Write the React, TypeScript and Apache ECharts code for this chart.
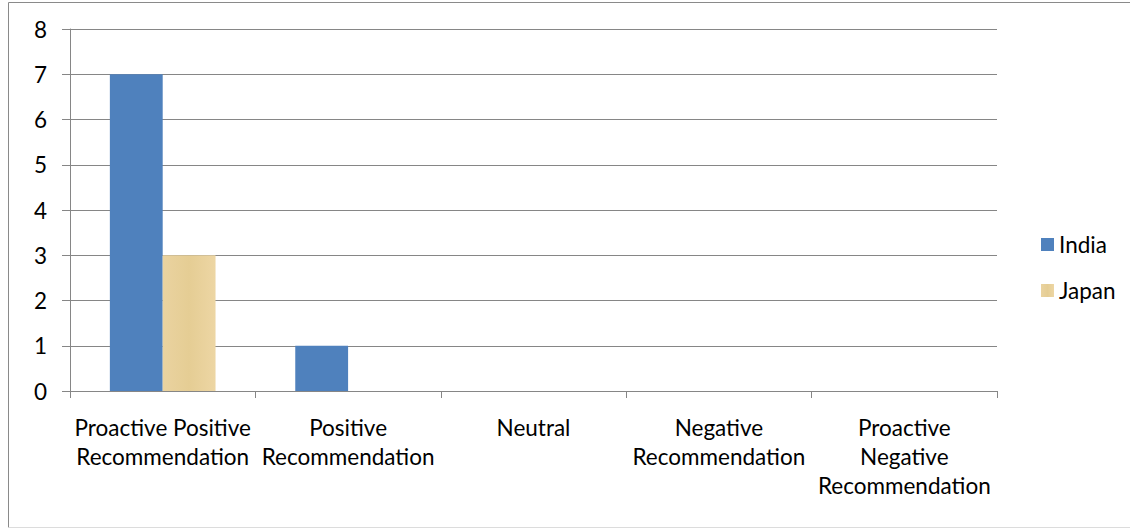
import React, { useEffect, useRef } from "react";
import * as echarts from "echarts";

const categories = [
  "Proactive Positive\nRecommendation",
  "Positive\nRecommendation",
  "Neutral",
  "Negative\nRecommendation",
  "Proactive\nNegative\nRecommendation",
];
const indiaValues = [7, 1, 0, 0, 0];
const japanValues = [3, 0, 0, 0, 0];
const yTicks = { min: 0, max: 8, interval: 1 };

const FONT = "Lato, 'Noto Sans', sans-serif";
const FS = 22.5;

export default function App() {
  const ref = useRef<HTMLDivElement>(null);
  useEffect(() => {
    if (!ref.current) return;
    const chart = echarts.init(ref.current, undefined, { renderer: "svg" });
    const japanColor = {
      type: "linear",
      x: 0,
      y: 0,
      x2: 1,
      y2: 0,
      colorStops: [
        { offset: 0, color: "#EAD3A0" },
        { offset: 0.5, color: "#E5CD94" },
        { offset: 1, color: "#EDD6A4" },
      ],
    };
    chart.setOption({
      animation: false,
      backgroundColor: "#ffffff",
      textStyle: { fontFamily: FONT },
      grid: { left: 70, right: 133, top: 29, bottom: 138, containLabel: false },
      legend: {
        orient: "vertical",
        left: 1036,
        top: 228,
        itemWidth: 13,
        itemHeight: 13,
        itemGap: 23,
        icon: "rect",
        textStyle: { fontSize: FS, color: "#000", fontFamily: FONT },
        data: ["India", "Japan"],
      },
      xAxis: {
        type: "category",
        data: categories,
        axisLine: { lineStyle: { color: "#868686", width: 1 } },
        axisTick: { show: true, length: 7, lineStyle: { color: "#868686" } },
        axisLabel: {
          color: "#000",
          fontSize: FS,
          lineHeight: 29,
          margin: 22,
          interval: 0,
          fontFamily: FONT,
        },
      },
      yAxis: {
        type: "value",
        min: yTicks.min,
        max: yTicks.max,
        interval: yTicks.interval,
        axisLine: { show: true, lineStyle: { color: "#868686", width: 1 } },
        axisTick: { show: true, length: 8, lineStyle: { color: "#868686" } },
        splitLine: { show: true, lineStyle: { color: "#868686", width: 1 } },
        axisLabel: { color: "#000", fontSize: FS, margin: 23, fontFamily: FONT },
      },
      series: [
        {
          name: "India",
          type: "bar",
          data: indiaValues,
          barGap: "0%",
          barCategoryGap: "43%",
          itemStyle: { color: "#4F81BD" },
        },
        {
          name: "Japan",
          type: "bar",
          data: japanValues,
          barGap: "0%",
          barCategoryGap: "43%",
          itemStyle: { color: japanColor },
        },
      ],
      graphic: [
        {
          type: "line",
          shape: { x1: 8.5, y1: 2.5, x2: 1130, y2: 2.5 },
          style: { stroke: "#8a8a8a", lineWidth: 1 },
          silent: true,
        },
        {
          type: "line",
          shape: { x1: 8.5, y1: 2.5, x2: 8.5, y2: 527.5 },
          style: { stroke: "#8a8a8a", lineWidth: 1 },
          silent: true,
        },
        {
          type: "line",
          shape: { x1: 8.5, y1: 527.5, x2: 1130, y2: 527.5 },
          style: { stroke: "#dcdcdc", lineWidth: 1 },
          silent: true,
        },
      ],
    });
    return () => chart.dispose();
  }, []);
  return (
    <div
      ref={ref}
      style={{ position: "absolute", left: 0, top: 0, width: 1130, height: 529 }}
    />
  );
}
